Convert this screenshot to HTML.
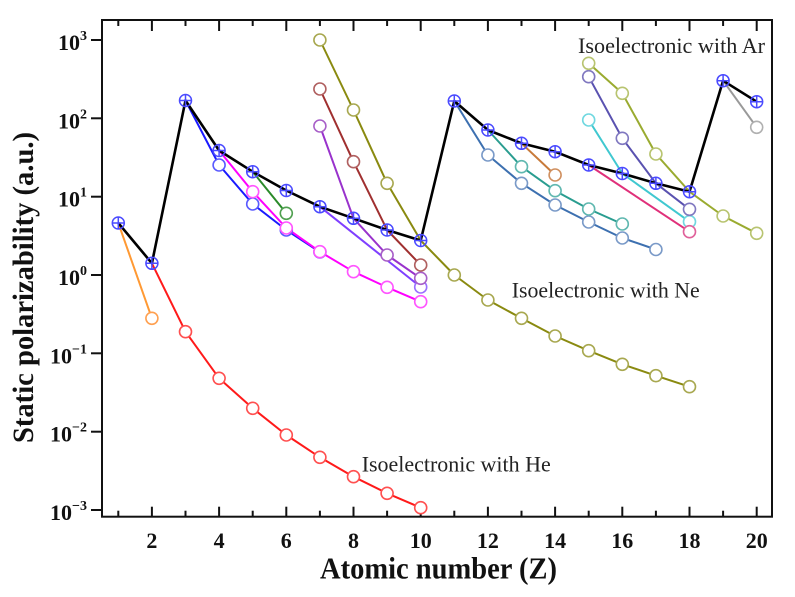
<!DOCTYPE html>
<html><head><meta charset="utf-8"><style>
html,body{margin:0;padding:0;background:#fff;}
svg{display:block;}
text{font-family:"Liberation Serif","Times New Roman",serif;}
</style></head><body>
<svg width="795" height="597" viewBox="0 0 795 597" xmlns="http://www.w3.org/2000/svg">
<rect width="795" height="597" fill="#fff"/>
<!-- ticks -->
<g stroke="#111" stroke-width="2">
<!-- y ticks outward -->
<line x1="91" y1="40" x2="102" y2="40"/>
<line x1="91" y1="118.3" x2="102" y2="118.3"/>
<line x1="91" y1="196.7" x2="102" y2="196.7"/>
<line x1="91" y1="275" x2="102" y2="275"/>
<line x1="91" y1="353.3" x2="102" y2="353.3"/>
<line x1="91" y1="431.7" x2="102" y2="431.7"/>
<line x1="91" y1="510" x2="102" y2="510"/>
<!-- bottom ticks -->
<line x1="118.3" y1="516.7" x2="118.3" y2="510.7"/>
<line x1="151.9" y1="516.7" x2="151.9" y2="506.7"/>
<line x1="185.5" y1="516.7" x2="185.5" y2="510.7"/>
<line x1="219.1" y1="516.7" x2="219.1" y2="506.7"/>
<line x1="252.7" y1="516.7" x2="252.7" y2="510.7"/>
<line x1="286.3" y1="516.7" x2="286.3" y2="506.7"/>
<line x1="319.9" y1="516.7" x2="319.9" y2="510.7"/>
<line x1="353.5" y1="516.7" x2="353.5" y2="506.7"/>
<line x1="387.1" y1="516.7" x2="387.1" y2="510.7"/>
<line x1="420.7" y1="516.7" x2="420.7" y2="506.7"/>
<line x1="454.3" y1="516.7" x2="454.3" y2="510.7"/>
<line x1="487.9" y1="516.7" x2="487.9" y2="506.7"/>
<line x1="521.5" y1="516.7" x2="521.5" y2="510.7"/>
<line x1="555.1" y1="516.7" x2="555.1" y2="506.7"/>
<line x1="588.7" y1="516.7" x2="588.7" y2="510.7"/>
<line x1="622.3" y1="516.7" x2="622.3" y2="506.7"/>
<line x1="655.9" y1="516.7" x2="655.9" y2="510.7"/>
<line x1="689.5" y1="516.7" x2="689.5" y2="506.7"/>
<line x1="723.1" y1="516.7" x2="723.1" y2="510.7"/>
<line x1="756.7" y1="516.7" x2="756.7" y2="506.7"/>
<!-- top ticks -->
<line x1="118.3" y1="20" x2="118.3" y2="26"/>
<line x1="151.9" y1="20" x2="151.9" y2="31"/>
<line x1="185.5" y1="20" x2="185.5" y2="26"/>
<line x1="219.1" y1="20" x2="219.1" y2="31"/>
<line x1="252.7" y1="20" x2="252.7" y2="26"/>
<line x1="286.3" y1="20" x2="286.3" y2="31"/>
<line x1="319.9" y1="20" x2="319.9" y2="26"/>
<line x1="353.5" y1="20" x2="353.5" y2="31"/>
<line x1="387.1" y1="20" x2="387.1" y2="26"/>
<line x1="420.7" y1="20" x2="420.7" y2="31"/>
<line x1="454.3" y1="20" x2="454.3" y2="26"/>
<line x1="487.9" y1="20" x2="487.9" y2="31"/>
<line x1="521.5" y1="20" x2="521.5" y2="26"/>
<line x1="555.1" y1="20" x2="555.1" y2="31"/>
<line x1="588.7" y1="20" x2="588.7" y2="26"/>
<line x1="622.3" y1="20" x2="622.3" y2="31"/>
<line x1="655.9" y1="20" x2="655.9" y2="26"/>
<line x1="689.5" y1="20" x2="689.5" y2="31"/>
<line x1="723.1" y1="20" x2="723.1" y2="26"/>
<line x1="756.7" y1="20" x2="756.7" y2="31"/>
</g>

<!-- colored series lines -->
<g fill="none" stroke-width="2" stroke-linejoin="round">
<polyline stroke="#ff9933" points="118.3,223 151.9,318.3"/>
<polyline stroke="#ff1a1a" points="151.9,263.3 185.5,331.7 219.1,378.3 252.7,408.3 286.3,435 319.9,457.3 353.5,476.7 387.1,493.3 420.7,507.7"/>
<polyline stroke="#1a1aff" points="185.5,100.5 219.1,165 252.7,204 286.3,230 319.9,252"/>
<polyline stroke="#ff00ff" points="219.1,150.5 252.7,191.7 286.3,228 319.9,251.7 353.5,271.7 387.1,287.3 420.7,301.7"/>
<polyline stroke="#2a8a2a" points="252.7,171.7 286.3,213.3"/>
<polyline stroke="#7f3fff" points="319.9,206.7 420.7,287"/>
<polyline stroke="#9932cc" points="319.9,126 353.5,218.3 387.1,255 420.7,278.3"/>
<polyline stroke="#a03030" points="319.9,89 353.5,161.7 387.1,230 420.7,265"/>
<polyline stroke="#8a8a10" points="319.9,40 353.5,110 387.1,183.3 420.7,240.5 454.3,275 487.9,300 521.5,318.3 555.1,336 588.7,350.7 622.3,364.3 655.9,375.7 689.5,386.7"/>
<polyline stroke="#3d70b0" points="454.3,101 487.9,155 521.5,183.3 555.1,205 588.7,222 622.3,238 655.9,249.5"/>
<polyline stroke="#2a9d90" points="487.9,130 521.5,166.7 555.1,190.7 588.7,209 622.3,224"/>
<polyline stroke="#c87a3a" points="521.5,143.3 555.1,175"/>
<polyline stroke="#40c8d0" points="588.7,120 622.3,173.5 689.5,221.7"/>
<polyline stroke="#e0307a" points="588.7,165 689.5,231.7"/>
<polyline stroke="#5a52b0" points="588.7,76.7 622.3,138.3 655.9,183.3 689.5,209.3"/>
<polyline stroke="#9aab30" points="588.7,63.3 622.3,93.3 655.9,154 689.5,191.7 723.1,216 756.7,233.3"/>
<polyline stroke="#999999" points="723.1,80.7 756.7,127.3"/>
</g>

<!-- black line -->
<polyline fill="none" stroke="#000" stroke-width="2.6" stroke-linejoin="round" points="118.3,223 151.9,263.3 185.5,100.5 219.1,150.5 252.7,171.7 286.3,190.5 319.9,206.7 353.5,218.3 387.1,230 420.7,240.5 454.3,101 487.9,130 521.5,143.3 555.1,151.7 588.7,165 622.3,173.5 655.9,183.3 689.5,191.7 723.1,80.7 756.7,101.7"/>

<!-- hollow markers -->
<g fill="#fff" stroke-width="1.6">
<g stroke="#ffa050"><circle cx="151.9" cy="318.3" r="6"/></g>
<g stroke="#ff5050">
<circle cx="185.5" cy="331.7" r="6"/><circle cx="219.1" cy="378.3" r="6"/><circle cx="252.7" cy="408.3" r="6"/><circle cx="286.3" cy="435" r="6"/><circle cx="319.9" cy="457.3" r="6"/><circle cx="353.5" cy="476.7" r="6"/><circle cx="387.1" cy="493.3" r="6"/><circle cx="420.7" cy="507.7" r="6"/>
</g>
<g stroke="#5a5aff">
<circle cx="219.1" cy="165" r="6"/><circle cx="252.7" cy="204" r="6"/><circle cx="286.3" cy="230" r="6"/><circle cx="319.9" cy="252" r="6"/>
</g>
<g stroke="#ff55ff">
<circle cx="252.7" cy="191.7" r="6"/><circle cx="286.3" cy="228" r="6"/><circle cx="319.9" cy="251.7" r="6"/><circle cx="353.5" cy="271.7" r="6"/><circle cx="387.1" cy="287.3" r="6"/><circle cx="420.7" cy="301.7" r="6"/>
</g>
<g stroke="#50a050"><circle cx="286.3" cy="213.3" r="6"/></g>
<g stroke="#9a70ff"><circle cx="420.7" cy="287" r="6"/></g>
<g stroke="#a860c8"><circle cx="319.9" cy="126" r="6"/><circle cx="387.1" cy="255" r="6"/><circle cx="420.7" cy="278.3" r="6"/></g>
<g stroke="#b06060"><circle cx="319.9" cy="89" r="6"/><circle cx="353.5" cy="161.7" r="6"/><circle cx="420.7" cy="265" r="6"/></g>
<g stroke="#a8a850">
<circle cx="319.9" cy="40" r="6"/><circle cx="353.5" cy="110" r="6"/><circle cx="387.1" cy="183.3" r="6"/><circle cx="454.3" cy="275" r="6"/><circle cx="487.9" cy="300" r="6"/><circle cx="521.5" cy="318.3" r="6"/><circle cx="555.1" cy="336" r="6"/><circle cx="588.7" cy="350.7" r="6"/><circle cx="622.3" cy="364.3" r="6"/><circle cx="655.9" cy="375.7" r="6"/><circle cx="689.5" cy="386.7" r="6"/>
</g>
<g stroke="#7a9ac8">
<circle cx="487.9" cy="155" r="6"/><circle cx="521.5" cy="183.3" r="6"/><circle cx="555.1" cy="205" r="6"/><circle cx="588.7" cy="222" r="6"/><circle cx="622.3" cy="238" r="6"/><circle cx="655.9" cy="249.5" r="6"/>
</g>
<g stroke="#60b8b0">
<circle cx="521.5" cy="166.7" r="6"/><circle cx="555.1" cy="190.7" r="6"/><circle cx="588.7" cy="209" r="6"/><circle cx="622.3" cy="224" r="6"/>
</g>
<g stroke="#d09060"><circle cx="555.1" cy="175" r="6"/></g>
<g stroke="#70d8e0"><circle cx="588.7" cy="120" r="6"/><circle cx="689.5" cy="221.7" r="6"/></g>
<g stroke="#e0609a"><circle cx="689.5" cy="231.7" r="6"/></g>
<g stroke="#8078c0"><circle cx="588.7" cy="76.7" r="6"/><circle cx="622.3" cy="138.3" r="6"/><circle cx="689.5" cy="209.3" r="6"/></g>
<g stroke="#b8c470"><circle cx="588.7" cy="63.3" r="6"/><circle cx="622.3" cy="93.3" r="6"/><circle cx="655.9" cy="154" r="6"/><circle cx="723.1" cy="216" r="6"/><circle cx="756.7" cy="233.3" r="6"/></g>
<g stroke="#b0b0b0"><circle cx="756.7" cy="127.3" r="6"/></g>
</g>

<!-- crossed blue markers -->
<g fill="none" stroke="#4a4aff" stroke-width="1.5">
<path d="M112.3,223h12M118.3,217v12"/><circle cx="118.3" cy="223" r="6"/>
<path d="M145.9,263.3h12M151.9,257.3v12"/><circle cx="151.9" cy="263.3" r="6"/>
<path d="M179.5,100.5h12M185.5,94.5v12"/><circle cx="185.5" cy="100.5" r="6"/>
<path d="M213.1,150.5h12M219.1,144.5v12"/><circle cx="219.1" cy="150.5" r="6"/>
<path d="M246.7,171.7h12M252.7,165.7v12"/><circle cx="252.7" cy="171.7" r="6"/>
<path d="M280.3,190.5h12M286.3,184.5v12"/><circle cx="286.3" cy="190.5" r="6"/>
<path d="M313.9,206.7h12M319.9,200.7v12"/><circle cx="319.9" cy="206.7" r="6"/>
<path d="M347.5,218.3h12M353.5,212.3v12"/><circle cx="353.5" cy="218.3" r="6"/>
<path d="M381.1,230h12M387.1,224v12"/><circle cx="387.1" cy="230" r="6"/>
<path d="M414.7,240.5h12M420.7,234.5v12"/><circle cx="420.7" cy="240.5" r="6"/>
<path d="M448.3,101h12M454.3,95v12"/><circle cx="454.3" cy="101" r="6"/>
<path d="M481.9,130h12M487.9,124v12"/><circle cx="487.9" cy="130" r="6"/>
<path d="M515.5,143.3h12M521.5,137.3v12"/><circle cx="521.5" cy="143.3" r="6"/>
<path d="M549.1,151.7h12M555.1,145.7v12"/><circle cx="555.1" cy="151.7" r="6"/>
<path d="M582.7,165h12M588.7,159v12"/><circle cx="588.7" cy="165" r="6"/>
<path d="M616.3,173.5h12M622.3,167.5v12"/><circle cx="622.3" cy="173.5" r="6"/>
<path d="M649.9,183.3h12M655.9,177.3v12"/><circle cx="655.9" cy="183.3" r="6"/>
<path d="M683.5,191.7h12M689.5,185.7v12"/><circle cx="689.5" cy="191.7" r="6"/>
<path d="M717.1,80.7h12M723.1,74.7v12"/><circle cx="723.1" cy="80.7" r="6"/>
<path d="M750.7,101.7h12M756.7,95.7v12"/><circle cx="756.7" cy="101.7" r="6"/>
</g>

<!-- frame -->
<rect x="102" y="20" width="670" height="496.7" fill="none" stroke="#111" stroke-width="2"/>

<!-- y tick labels -->
<g font-weight="bold" font-size="22" fill="#111" text-anchor="end">
<text x="87" y="50">10<tspan dy="-10" font-size="14">3</tspan></text>
<text x="87" y="128.3">10<tspan dy="-10" font-size="14">2</tspan></text>
<text x="87" y="206.7">10<tspan dy="-10" font-size="14">1</tspan></text>
<text x="87" y="285">10<tspan dy="-10" font-size="14">0</tspan></text>
<text x="87" y="363.3">10<tspan dy="-10" font-size="14">−1</tspan></text>
<text x="87" y="441.7">10<tspan dy="-10" font-size="14">−2</tspan></text>
<text x="87" y="520">10<tspan dy="-10" font-size="14">−3</tspan></text>
</g>
<!-- x tick labels -->
<g font-weight="bold" font-size="22" fill="#111" text-anchor="middle">
<text x="151.9" y="548">2</text>
<text x="219.1" y="548">4</text>
<text x="286.3" y="548">6</text>
<text x="353.5" y="548">8</text>
<text x="420.7" y="548">10</text>
<text x="487.9" y="548">12</text>
<text x="555.1" y="548">14</text>
<text x="622.3" y="548">16</text>
<text x="689.5" y="548">18</text>
<text x="756.7" y="548">20</text>
</g>

<!-- axis labels -->
<text x="320" y="578.5" font-weight="bold" font-size="31" fill="#111" textLength="237" lengthAdjust="spacingAndGlyphs">Atomic number (Z)</text>
<text transform="translate(33,443) rotate(-90)" x="0" y="0" font-weight="bold" font-size="30" fill="#111" textLength="311" lengthAdjust="spacingAndGlyphs">Static polarizability (a.u.)</text>

<!-- annotations -->
<g font-size="22" fill="#222">
<text x="578" y="53" textLength="187" lengthAdjust="spacingAndGlyphs">Isoelectronic with Ar</text>
<text x="511.7" y="297.7" textLength="188" lengthAdjust="spacingAndGlyphs">Isoelectronic with Ne</text>
<text x="361.7" y="471.7" textLength="189" lengthAdjust="spacingAndGlyphs">Isoelectronic with He</text>
</g>
</svg>
</body></html>
